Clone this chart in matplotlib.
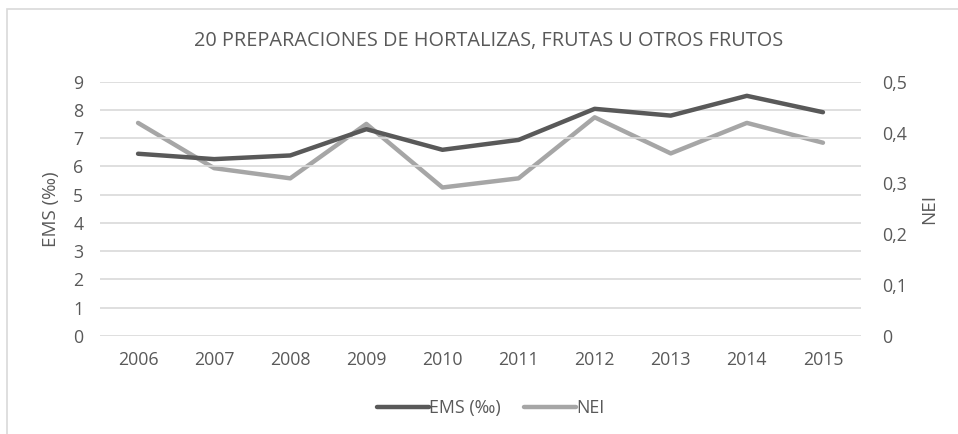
import matplotlib
matplotlib.use("Agg")
import matplotlib.pyplot as plt
from matplotlib.patches import Rectangle
from matplotlib.lines import Line2D

plt.rcParams['font.family'] = ['Open Sans', 'DejaVu Sans']

years = ['2006', '2007', '2008', '2009', '2010', '2011', '2012', '2013', '2014', '2015']
ems = [6.45, 6.26, 6.39, 7.32, 6.59, 6.94, 8.04, 7.80, 8.50, 7.92]
nei = [0.419, 0.330, 0.310, 0.417, 0.292, 0.310, 0.430, 0.359, 0.419, 0.380]
left_ticks = [0, 1, 2, 3, 4, 5, 6, 7, 8, 9]
right_ticks = [0, 0.1, 0.2, 0.3, 0.4, 0.5]
right_labels = ['0', '0,1', '0,2', '0,3', '0,4', '0,5']

TXT = '#595959'
DARK = '#595959'
LIGHT = '#a6a6a6'
GRID = '#d9d9d9'
FS = 12.8

fig = plt.figure(figsize=(9.58, 4.34), dpi=100)
fig.patch.set_facecolor('white')
fig.patches.append(Rectangle((7/958, -0.1), 1.2, 1 - 9/434 + 0.1, transform=fig.transFigure,
                             fill=False, edgecolor='#d9d9d9', linewidth=1.2))

ax = fig.add_axes([100/958, 1 - 336/434, 761/958, (336 - 81.7)/434])
x = list(range(len(years)))
ax.set_xlim(-0.5, len(years) - 0.5)
ax.set_ylim(0, 9)
ax.set_yticks(left_ticks)
ax.set_yticklabels([str(t) for t in left_ticks])
ax.set_xticks(x)
ax.set_xticklabels(years)
ax.yaxis.grid(True, color=GRID, linewidth=1.2)
ax.set_axisbelow(True)
for s in ax.spines.values():
    s.set_visible(False)
ax.tick_params(axis='both', length=0, colors=TXT, labelsize=FS)
ax.tick_params(axis='y', pad=12)
ax.tick_params(axis='x', pad=11)
ax.set_ylabel('EMS (‰)', color=TXT, fontsize=13.5)
ax.yaxis.set_label_coords(-0.052, 0.5)

ax2 = ax.twinx()
ax2.set_ylim(0, 0.5)
ax2.set_yticks(right_ticks)
ax2.set_yticklabels(right_labels)
for s in ax2.spines.values():
    s.set_visible(False)
ax2.tick_params(axis='both', length=0, colors=TXT, labelsize=FS)
ax2.tick_params(axis='y', pad=15)
ax2.set_ylabel('NEI', color=TXT, fontsize=13.5)
ax2.yaxis.set_label_coords(1.078, 0.5)

ax2.plot(x, nei, color=LIGHT, linewidth=3.2, solid_joinstyle='round', solid_capstyle='round')
ax.plot(x, ems, color=DARK, linewidth=3.2, solid_joinstyle='round', solid_capstyle='round')
ax.set_zorder(ax2.get_zorder() + 1)
ax.patch.set_visible(False)

fig.text(489/958, 1 - 41/434, '20 PREPARACIONES DE HORTALIZAS, FRUTAS U OTROS FRUTOS',
         ha='center', va='center', color=TXT, fontsize=14.3)

handles = [Line2D([], [], color=DARK, linewidth=3.2, solid_capstyle='round'),
           Line2D([], [], color=LIGHT, linewidth=3.2, solid_capstyle='round')]
fig.legend(handles, ['EMS (‰)', 'NEI'], loc='center', bbox_to_anchor=(491/958, 1 - 408/434),
           ncol=2, frameon=False, fontsize=FS, labelcolor=TXT, handlelength=2.9,
           handletextpad=0.05, columnspacing=1.3)

fig.savefig('out.png', dpi=100, facecolor='white')
